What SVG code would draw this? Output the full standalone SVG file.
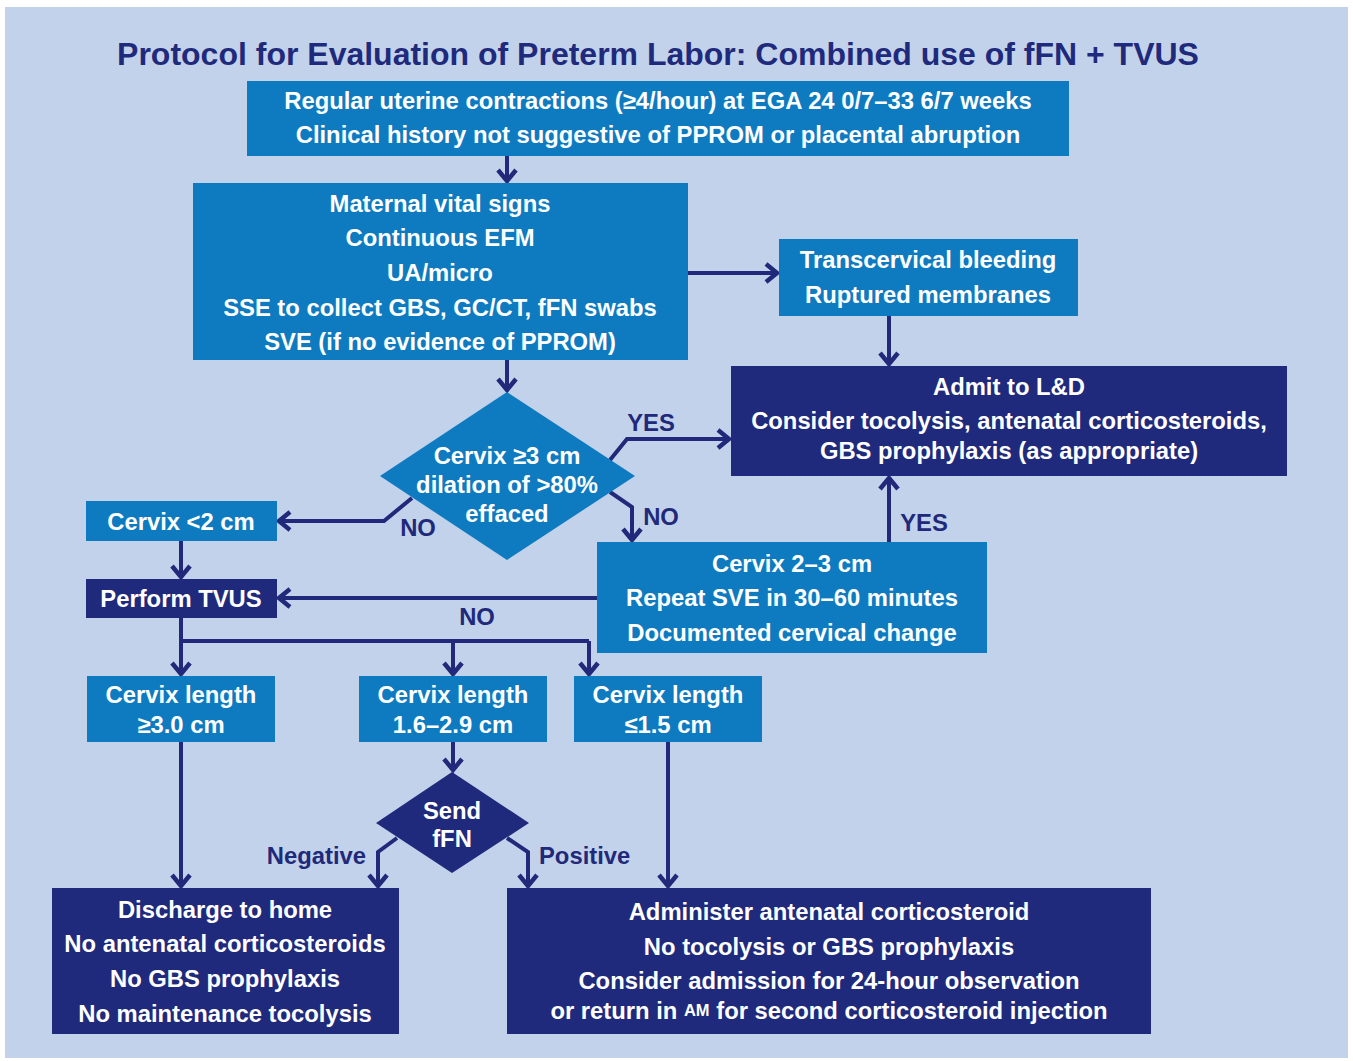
<svg xmlns="http://www.w3.org/2000/svg" width="1353" height="1061" viewBox="0 0 1353 1061">
<defs>
<style>
.lt{fill:#0e7bc0}
.dk{fill:#1f2a7c}
.tx{font-family:"Liberation Sans",Arial,sans-serif;font-weight:bold;font-size:23.8px;fill:#ffffff;text-anchor:middle;dominant-baseline:central}
.lb{font-family:"Liberation Sans",Arial,sans-serif;font-weight:bold;font-size:23.8px;fill:#20297a;dominant-baseline:central}
.cn{fill:none;stroke:#20297a;stroke-width:4;stroke-linejoin:miter}
.ar{marker-end:url(#ah)}
</style>
<marker id="ah" markerUnits="userSpaceOnUse" markerWidth="22" markerHeight="22" viewBox="0 0 22 22" refX="15" refY="11" orient="auto">
<path d="M3,2 L14,11 L3,20" fill="none" stroke="#20297a" stroke-width="4.5"/>
</marker>
</defs>
<rect x="0" y="0" width="1353" height="1061" fill="#ffffff"/>
<rect x="5" y="7" width="1343" height="1051" fill="#c3d2eb"/>
<text x="658" y="54" font-family="'Liberation Sans',Arial,sans-serif" font-weight="bold" font-size="32" fill="#1f2a7c" text-anchor="middle" dominant-baseline="central">Protocol for Evaluation of Preterm Labor: Combined use of fFN + TVUS</text>

<g id="connectors">
<path class="cn ar" d="M507,156 V182"/>
<path class="cn ar" d="M688,273 H778"/>
<path class="cn ar" d="M889,316 V365"/>
<path class="cn ar" d="M507,360 V391"/>
<path class="cn ar" d="M610,460 L627,439 H730"/>
<path class="cn ar" d="M610,492 L632,507 V541"/>
<path class="cn ar" d="M412,498 L384,521 H278"/>
<path class="cn ar" d="M181,541 V578"/>
<path class="cn ar" d="M597,598 H278"/>
<path class="cn ar" d="M889,542 V477"/>
<path class="cn" d="M181,618 V641 H589"/>
<path class="cn ar" d="M181,641 V675"/>
<path class="cn ar" d="M453,641 V675"/>
<path class="cn ar" d="M589,641 V675"/>
<path class="cn ar" d="M181,742 V887"/>
<path class="cn ar" d="M453,742 V771"/>
<path class="cn ar" d="M397,838 L378,852 V887"/>
<path class="cn ar" d="M507,838 L528,852 V887"/>
<path class="cn ar" d="M668,742 V887"/>
<text class="lb" x="651" y="422" text-anchor="middle">YES</text>
<text class="lb" x="661" y="516" text-anchor="middle">NO</text>
<text class="lb" x="418" y="527" text-anchor="middle">NO</text>
<text class="lb" x="477" y="616" text-anchor="middle">NO</text>
<text class="lb" x="924" y="522" text-anchor="middle">YES</text>
<text class="lb" x="366" y="855" text-anchor="end">Negative</text>
<text class="lb" x="539" y="855">Positive</text>
</g>

<g id="n1">
<rect class="lt" x="247" y="81" width="822" height="75"/>
<text class="tx" x="658" y="100">Regular uterine contractions (≥4/hour) at EGA 24 0/7–33 6/7 weeks</text>
<text class="tx" x="658" y="134">Clinical history not suggestive of PPROM or placental abruption</text>
</g>
<g id="n2">
<rect class="lt" x="193" y="183" width="495" height="177"/>
<text class="tx" x="440" y="203">Maternal vital signs</text>
<text class="tx" x="440" y="237">Continuous EFM</text>
<text class="tx" x="440" y="272">UA/micro</text>
<text class="tx" x="440" y="307">SSE to collect GBS, GC/CT, fFN swabs</text>
<text class="tx" x="440" y="341">SVE (if no evidence of PPROM)</text>
</g>
<g id="n3">
<rect class="lt" x="779" y="239" width="299" height="77"/>
<text class="tx" x="928" y="259">Transcervical bleeding</text>
<text class="tx" x="928" y="294">Ruptured membranes</text>
</g>
<g id="n4">
<rect class="dk" x="731" y="366" width="556" height="110"/>
<text class="tx" x="1009" y="386">Admit to L&amp;D</text>
<text class="tx" x="1009" y="420">Consider tocolysis, antenatal corticosteroids,</text>
<text class="tx" x="1009" y="450">GBS prophylaxis (as appropriate)</text>
</g>
<g id="n5">
<polygon class="lt" points="507,392 635,476 507,560 380,476"/>
<text class="tx" x="507" y="455">Cervix ≥3 cm</text>
<text class="tx" x="507" y="484">dilation of &gt;80%</text>
<text class="tx" x="507" y="513">effaced</text>
</g>
<g id="n6">
<rect class="lt" x="86" y="501" width="191" height="40"/>
<text class="tx" x="181" y="521">Cervix &lt;2 cm</text>
</g>
<g id="n7">
<rect class="dk" x="86" y="579" width="191" height="39"/>
<text class="tx" x="181" y="598">Perform TVUS</text>
</g>
<g id="n8">
<rect class="lt" x="597" y="542" width="390" height="111"/>
<text class="tx" x="792" y="563">Cervix 2–3 cm</text>
<text class="tx" x="792" y="597">Repeat SVE in 30–60 minutes</text>
<text class="tx" x="792" y="632">Documented cervical change</text>
</g>
<g id="n9">
<rect class="lt" x="87" y="676" width="188" height="66"/>
<text class="tx" x="181" y="694">Cervix length</text>
<text class="tx" x="181" y="724">≥3.0 cm</text>
</g>
<g id="n10">
<rect class="lt" x="359" y="676" width="188" height="66"/>
<text class="tx" x="453" y="694">Cervix length</text>
<text class="tx" x="453" y="724">1.6–2.9 cm</text>
</g>
<g id="n11">
<rect class="lt" x="574" y="676" width="188" height="66"/>
<text class="tx" x="668" y="694">Cervix length</text>
<text class="tx" x="668" y="724">≤1.5 cm</text>
</g>
<g id="n12">
<polygon class="dk" points="452,772 529,823 452,873 376,823"/>
<text class="tx" x="452" y="810">Send</text>
<text class="tx" x="452" y="838">fFN</text>
</g>
<g id="n13">
<rect class="dk" x="52" y="888" width="347" height="146"/>
<text class="tx" x="225" y="909">Discharge to home</text>
<text class="tx" x="225" y="943">No antenatal corticosteroids</text>
<text class="tx" x="225" y="978">No GBS prophylaxis</text>
<text class="tx" x="225" y="1013">No maintenance tocolysis</text>
</g>
<g id="n14">
<rect class="dk" x="507" y="888" width="644" height="146"/>
<text class="tx" x="829" y="911">Administer antenatal corticosteroid</text>
<text class="tx" x="829" y="946">No tocolysis or GBS prophylaxis</text>
<text class="tx" x="829" y="980">Consider admission for 24-hour observation</text>
<text class="tx" x="829" y="1010">or return in <tspan font-size="16.5">AM</tspan> for second corticosteroid injection</text>
</g>
</svg>
